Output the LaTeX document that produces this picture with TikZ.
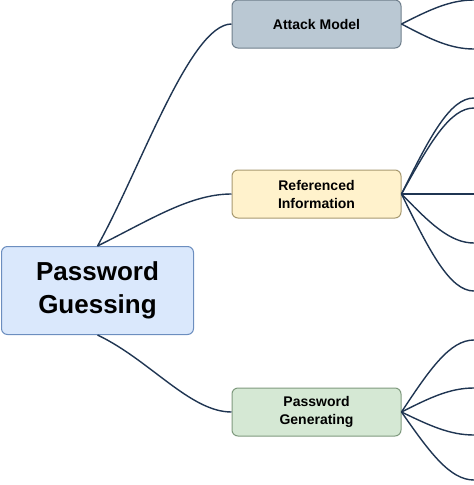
\documentclass[tikz,border=0pt]{standalone}
\usepackage{fontspec}
\setmainfont{Liberation Sans}
\usetikzlibrary{positioning}
\definecolor{rootfill}{HTML}{DAE8FC}
\definecolor{rootline}{HTML}{6C8EBF}
\definecolor{atkfill}{HTML}{BAC8D3}
\definecolor{atkline}{HTML}{6F7F8C}
\definecolor{reffill}{HTML}{FFF2CC}
\definecolor{refline}{HTML}{A89A70}
\definecolor{genfill}{HTML}{D5E8D4}
\definecolor{genline}{HTML}{7F9A7E}
\definecolor{wire}{HTML}{1F3552}
\tikzset{
	box/.style={rectangle,rounded corners=6pt,line width=1pt,align=center,font=\bfseries},
	branch/.style={box,minimum width=169pt,minimum height=48pt,font=\bfseries\fontsize{14pt}{18pt}\selectfont},
	wirestyle/.style={wire,line width=1.4pt},
}
\begin{document}
\begin{tikzpicture}[x=1pt,y=-1pt]
\useasboundingbox (0,0) rectangle (474,485);

%root
\node[box,fill=rootfill,draw=rootline,minimum width=192pt,minimum height=88pt,
	font=\bfseries\fontsize{26pt}{33pt}\selectfont] (guess) at (97.5,290.5) {Password\\Guessing};

%branches
\node[branch,fill=atkfill,draw=atkline] (attack) at (316.5,24) {Attack Model};
\node[branch,fill=reffill,draw=refline] (refinfo) at (316.5,194) {Referenced\\Information};
\node[branch,fill=genfill,draw=genline] (pwgen) at (316.5,412) {Password\\Generating};

\coordinate (top) at (guess.north);
\coordinate (bot) at (guess.south);
\draw[wirestyle] (top) .. controls (140,170) and (190,24) .. (attack.west);
\draw[wirestyle] (top) .. controls (150,220) and (190,194) .. (refinfo.west);
\draw[wirestyle] (bot) .. controls (150,360) and (190,412) .. (pwgen.west);

%leaves
\foreach \y in {0,49}
	\draw[wirestyle] (attack.east) .. controls (430,{24+(\y-24)*0.6}) and (450,\y) .. (474,\y);
\foreach \y in {98,108,194,243,291}
	\draw[wirestyle] (refinfo.east) .. controls (430,{194+(\y-194)*0.6}) and (450,\y) .. (474,\y);
\foreach \y in {340,388,435,480}
	\draw[wirestyle] (pwgen.east) .. controls (430,{412+(\y-412)*0.6}) and (450,\y) .. (474,\y);
\end{tikzpicture}
\end{document}
